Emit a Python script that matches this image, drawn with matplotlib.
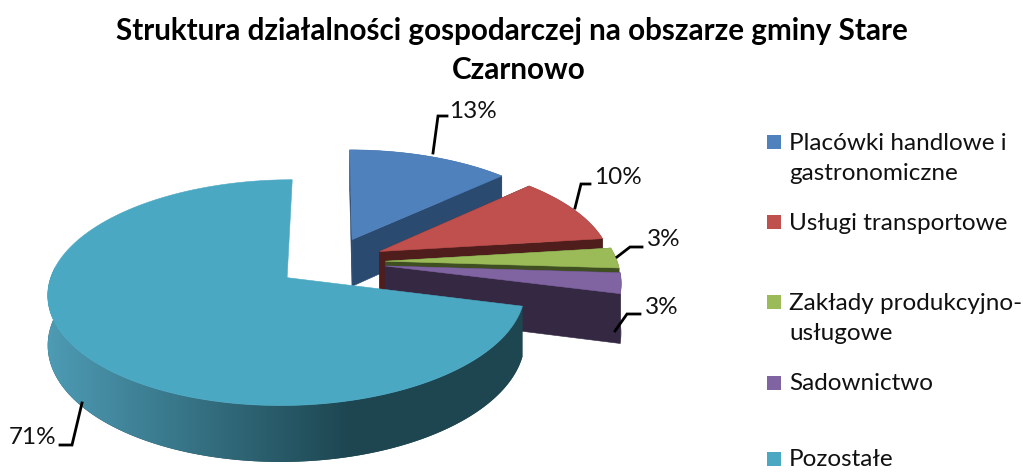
import matplotlib
matplotlib.use("Agg")
import matplotlib.pyplot as plt
import numpy as np
from matplotlib.colors import LinearSegmentedColormap
from matplotlib.patches import Polygon, Rectangle

plt.rcParams["font.family"] = ["Lato", "DejaVu Sans"]

# chart data
categories = [
    "Placówki handlowe i\ngastronomiczne",
    "Usługi transportowe",
    "Zakłady produkcyjno-\nusługowe",
    "Sadownictwo",
    "Pozostałe",
]
values = [13, 10, 3, 3, 71]
title = "Struktura działalności gospodarczej na obszarze gminy Stare\nCzarnowo"

# styling, layout in pixels of the 1023x472 picture
top_colors = ["#4f81bd", "#c0504d", "#9bbb59", "#8064a2", "#4aa8c2"]
side_colors = ["#2b4a70", "#4f1e1c", "#3f4f22", "#352842", "#1d4651"]
wall_light = "#4d9ab3"
legend_y = [143, 223, 303, 384, 460]
leaders = [
    [(433, 153), (438, 116), (447, 116)],
    [(575, 208), (581, 184), (590, 184)],
    [(617, 257), (630, 247), (642, 247)],
    [(615, 331), (627, 314), (640, 314)],
    [(82, 403), (72, 445), (60, 445)],
]
label_pos = [(449, 111), (594, 178), (647, 239), (645, 307), (56, 438)]

CX, CY = 331, 262
RX, RY = 232, 106.8
PERSP = 0.13
DEPTH = 48
EXPLODE = 0.235


def project(x, y, drop=0.0):
    s = 1 + PERSP * y
    return CX + RX * x / s, CY - RY * y / s + drop * DEPTH / s


def slice_outline(start, end):
    """Apex and rim of one exploded slice in disk coordinates (angles in degrees)."""
    mid = np.radians((start + end) / 2)
    ox, oy = EXPLODE * np.cos(mid), EXPLODE * np.sin(mid)
    t = np.radians(np.linspace(start, end, 240))
    return ox, oy, ox + np.cos(t), oy + np.sin(t), t


def extrude(x, y):
    """Screen polygon of a top edge swept down to the bottom of the disk."""
    tx, ty = project(x, y)
    bx, by = project(x, y, 1)
    return np.c_[np.r_[tx, bx[::-1]], np.r_[ty, by[::-1]]]


def draw_slice(ax, start, end, top, side, is_big, z):
    ox, oy, rim_x, rim_y, t = slice_outline(start, end)

    if is_big:
        # only the front of the rim shows, shaded light to dark
        front = np.sin(t) < 0.1
        wall = Polygon(extrude(rim_x[front], rim_y[front]), facecolor=side, edgecolor="none", zorder=z)
        ax.add_patch(wall)
        cmap = LinearSegmentedColormap.from_list("wall", [wall_light, side])
        shade = np.clip((np.arange(1023) - 50) / 300, 0, 1)
        img = ax.imshow(shade[None, :], extent=(0, 1023, 472, 0), cmap=cmap, aspect="auto", zorder=z + 0.1)
        img.set_clip_path(wall)
    else:
        for i in (0, -1):
            face = extrude(np.array([ox, rim_x[i]]), np.array([oy, rim_y[i]]))
            ax.add_patch(Polygon(face, facecolor=side, edgecolor=side, linewidth=0.4, zorder=z))
        wall = Polygon(extrude(rim_x, rim_y), facecolor=side, edgecolor="none", zorder=z)
        ax.add_patch(wall)

    px, py = project(np.r_[ox, rim_x], np.r_[oy, rim_y])
    ax.add_patch(Polygon(np.c_[px, py], facecolor=top, edgecolor=top, linewidth=0.4, zorder=z + 0.2))


def main():
    fig = plt.figure(figsize=(10.23, 4.72), dpi=100)
    ax = fig.add_axes([0, 0, 1, 1])
    ax.axis("off")

    angles = 90 - np.r_[0, np.cumsum(values)] * 3.6
    for i in range(len(values)):
        draw_slice(ax, angles[i], angles[i + 1], top_colors[i], side_colors[i], i == len(values) - 1, 1 + i)

    ax.set_xlim(0, 1023)
    ax.set_ylim(472, 0)

    for line, pos, value in zip(leaders, label_pos, values):
        xs, ys = zip(*line)
        ax.plot(xs, ys, color="black", linewidth=2, solid_joinstyle="miter", zorder=10)
        ha = "right" if pos[0] < 100 else "left"
        ax.text(pos[0], pos[1], f"{value}%", fontsize=17.5, ha=ha, va="center", color="#111111")

    first, second = title.split("\n")
    ax.text(512, 31, first, fontsize=21.3, fontweight="bold", ha="center", va="center")
    ax.text(519, 70, second, fontsize=21.3, fontweight="bold", ha="center", va="center")

    for label, y, color in zip(categories, legend_y, top_colors):
        ax.add_patch(Rectangle((767, y - 8), 14, 14, facecolor=color, edgecolor="none", zorder=10))
        for j, part in enumerate(label.split("\n")):
            ax.text(789, y + j * 31, part, fontsize=17.5, ha="left", va="center", color="#111111")

    fig.savefig("out.png", dpi=100)
    plt.close(fig)


if __name__ == "__main__":
    main()
